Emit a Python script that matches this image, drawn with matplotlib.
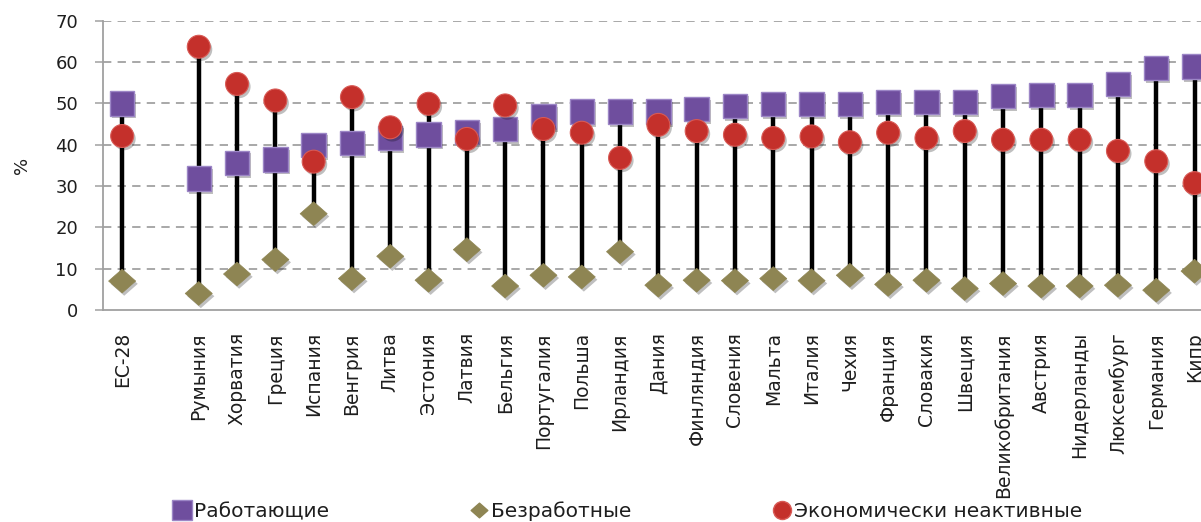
import numpy as np
import matplotlib
matplotlib.use("Agg")
import matplotlib.pyplot as plt
import matplotlib.patheffects as pe
from matplotlib.path import Path
from matplotlib.lines import Line2D

plt.rcParams['font.family'] = ['DejaVu Sans']
plt.rcParams['lines.scale_dashes'] = False

categories = ['ЕС-28', '', 'Румыния', 'Хорватия', 'Греция', 'Испания', 'Венгрия', 'Литва',
              'Эстония', 'Латвия', 'Бельгия', 'Португалия', 'Польша', 'Ирландия', 'Дания',
              'Финляндия', 'Словения', 'Мальта', 'Италия', 'Чехия', 'Франция', 'Словакия',
              'Швеция', 'Великобритания', 'Австрия', 'Нидерланды', 'Люксембург', 'Германия', 'Кипр']

employed = [50.0, np.nan, 31.8, 35.6, 36.4, 40.0, 40.4, 41.7, 42.5, 43.0, 43.8, 46.8, 48.0, 48.0,
            48.0, 48.6, 49.4, 49.9, 49.9, 49.9, 50.3, 50.3, 50.3, 51.7, 52.1, 52.1, 54.7, 58.5, 58.9]
unemployed = [7.0, np.nan, 4.0, 8.7, 12.2, 23.3, 7.6, 13.0, 7.2, 14.6, 5.8, 8.4, 8.0, 14.1,
              6.0, 7.2, 7.1, 7.6, 7.1, 8.4, 6.2, 7.2, 5.2, 6.4, 5.8, 5.8, 6.0, 4.8, 9.4]
inactive = [42.1, np.nan, 63.7, 54.7, 50.7, 35.9, 51.5, 44.2, 49.9, 41.4, 49.5, 43.8, 42.9, 36.8,
            44.8, 43.3, 42.4, 41.6, 42.0, 40.6, 42.9, 41.6, 43.3, 41.2, 41.2, 41.2, 38.5, 36.0, 30.7]

series_names = ['Работающие', 'Безработные', 'Экономически неактивные']
yticks = [0, 10, 20, 30, 40, 50, 60, 70]

c_sq, c_sq_edge = '#6F4E9E', '#9C86C6'
c_di = '#8E8553'
c_ci, c_ci_edge = '#C4302B', '#D85A55'
txt = '#1E1E1E'
axcol = '#A0A0A0'

diamond = Path([(0, 0.88), (1, 0), (0, -0.88), (-1, 0), (0, 0.88)],
               [Path.MOVETO, Path.LINETO, Path.LINETO, Path.LINETO, Path.CLOSEPOLY])

fig = plt.figure(figsize=(12.01, 5.22), dpi=100)
ax = fig.add_axes([103 / 1201, 1 - 310 / 522, 1 - 103 / 1201, (310 - 20.7) / 522])

x = np.arange(len(categories))
data = np.array([employed, unemployed, inactive], dtype=float)
lo = np.nanmin(data, axis=0)
hi = np.nanmax(data, axis=0)
ok = ~np.isnan(lo)

ax.vlines(x[ok], lo[ok], hi[ok], color='black', lw=3.2, zorder=3)

shadow = [pe.SimplePatchShadow(offset=(1.5, -2), shadow_rgbFace='#000000', alpha=0.25), pe.Normal()]

ax.plot(x, unemployed, ls='none', marker=diamond, ms=19.5, mfc=c_di, mec=c_di, mew=0.5,
        zorder=4, path_effects=shadow)
ax.plot(x, employed, ls='none', marker='s', ms=17.5, mfc=c_sq, mec=c_sq_edge, mew=1.0,
        zorder=5, path_effects=shadow)
ax.plot(x, inactive, ls='none', marker='o', ms=16.5, mfc=c_ci, mec=c_ci_edge, mew=0.8,
        zorder=6, path_effects=shadow)

ax.set_ylim(0, 70)
ax.set_xlim(-0.5, -0.5 + (1201 - 103) / 38.3)
ax.set_yticks(yticks)
ax.set_yticklabels([str(v) for v in yticks], fontsize=13, color=txt)
ax.set_xticks(x)
ax.set_xticklabels(categories, rotation=90, fontsize=13.5, color=txt, va='top', ha='center')
ax.tick_params(axis='x', length=0, pad=16)
ax.tick_params(axis='y', length=6, width=1.1, color=axcol, pad=12, direction='out')

for yv in yticks[1:]:
    ax.axhline(yv, color='#9A9A9A', lw=1.2, ls=(0, (6, 4.5)), zorder=1)

for s in ['top', 'right']:
    ax.spines[s].set_visible(False)
for s in ['left', 'bottom']:
    ax.spines[s].set_color(axcol)
    ax.spines[s].set_linewidth(1.3)

fig.text(22 / 1201, 1 - 165 / 522, '%', rotation=90, ha='center', va='center',
         fontsize=13, color=txt)

handles = [
    Line2D([], [], ls='none', marker='s', ms=14, mfc=c_sq, mec=c_sq_edge),
    Line2D([], [], ls='none', marker=diamond, ms=12, mfc=c_di, mec=c_di),
    Line2D([], [], ls='none', marker='o', ms=13, mfc=c_ci, mec=c_ci_edge),
]
fig.legend(handles, series_names, loc='center', bbox_to_anchor=(0.5225, 0.02), ncol=3,
           frameon=False, fontsize=14.5, labelcolor=txt, handlelength=0.9, handletextpad=0.15,
           columnspacing=7.0, borderpad=0)

fig.savefig('out.png', dpi=100)
